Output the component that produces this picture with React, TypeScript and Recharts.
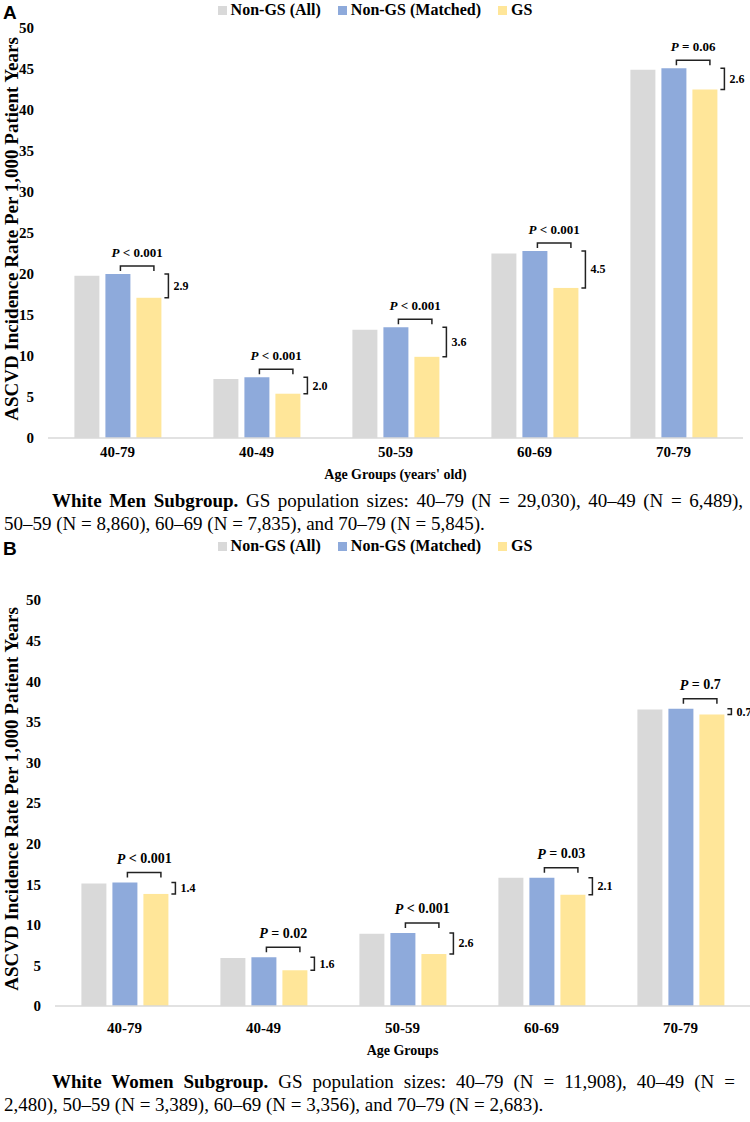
import React from "react";
import { BarChart, Bar, XAxis, YAxis, Legend } from "recharts";

const ageGroups = ["40-79", "40-49", "50-59", "60-69", "70-79"];
const yTicks = [0, 5, 10, 15, 20, 25, 30, 35, 40, 45, 50];
const seriesNames = ["Non-GS (All)", "Non-GS (Matched)", "GS"];

// White men (panel A)
const menNonGsAll = [19.8, 7.2, 13.2, 22.5, 44.9];
const menNonGsMatched = [20.0, 7.4, 13.5, 22.8, 45.1];
const menGs = [17.1, 5.4, 9.9, 18.3, 42.5];
const menPValues = ["P < 0.001", "P < 0.001", "P < 0.001", "P < 0.001", "P = 0.06"];
const menDiffs = ["2.9", "2.0", "3.6", "4.5", "2.6"];

// White women (panel B)
const womenNonGsAll = [15.1, 5.9, 8.9, 15.8, 36.5];
const womenNonGsMatched = [15.2, 6.0, 9.0, 15.8, 36.6];
const womenGs = [13.8, 4.4, 6.4, 13.7, 35.9];
const womenPValues = ["P < 0.001", "P = 0.02", "P < 0.001", "P = 0.03", "P = 0.7"];
const womenDiffs = ["1.4", "1.6", "2.6", "2.1", "0.7"];

const SERIF = '"Liberation Serif", "Times New Roman", serif';
const SANS = '"Liberation Sans", Arial, sans-serif';
const COLORS = ["#d9d9d9", "#8eaadb", "#ffe699"];
const BAR_GAP = 6;
const INK = "#222";

const buildRows = (all: number[], matched: number[], gs: number[], p: string[], d: string[]) =>
    ageGroups.map((g, i) => ({ group: g, all: all[i], matched: matched[i], gs: gs[i], p: p[i], diff: d[i] }));

const LegendBox = () => (
    <div
        style={{
            display: "flex",
            justifyContent: "center",
            alignItems: "center",
            height: 20,
            width: 750,
            fontFamily: SERIF,
            fontWeight: "bold",
            fontSize: 16,
            color: "#000",
        }}
    >
        {seriesNames.map((n, i) => (
            <span key={n} style={{ display: "flex", alignItems: "center", marginRight: i < 2 ? 17 : 0 }}>
                <span style={{ width: 9, height: 9, background: COLORS[i], marginRight: 4, display: "inline-block" }} />
                {n}
            </span>
        ))}
    </div>
);

interface PanelProps {
    letter: string;
    top: number;
    height: number;
    marginTop: number;
    marginRight: number;
    yAxisWidth: number;
    rows: ReturnType<typeof buildRows>;
    xTitle: string;
    pSize: number;
    lift: number;
    tickGap: number;
    titleOffset: number;
}

const Panel: React.FC<PanelProps> = ({
    letter, top, height, marginTop, marginRight, yAxisWidth, rows, xTitle, pSize, lift, tickGap, titleOffset,
}) => {
    const gsShape = (props: any) => {
        const { x, y, width, height: h, payload } = props;
        const base = y + h;
        const perUnit = h / payload.gs;
        const blueTop = base - payload.matched * perUnit;
        const blueX = x - width - BAR_GAP;
        const bx1 = blueX + 0.6 * width;
        const bx2 = x + 0.7 * width;
        const by = blueTop - lift;
        const vx = x + width + 7;
        return (
            <g>
                <rect x={x} y={y} width={width} height={h} fill={COLORS[2]} />
                <path d={`M${bx1},${by + 5}V${by}H${bx2}V${by + 5}`} stroke={INK} strokeWidth={1.5} fill="none" />
                <text
                    x={(bx1 + bx2) / 2}
                    y={by - 14}
                    textAnchor="middle"
                    dominantBaseline="central"
                    fontFamily={SERIF}
                    fontWeight="bold"
                    fontSize={pSize}
                    fill="#000"
                >
                    <tspan fontStyle="italic">P</tspan>
                    {payload.p.slice(1)}
                </text>
                <path d={`M${vx - 4},${blueTop}H${vx}V${y}H${vx - 4}`} stroke={INK} strokeWidth={1.5} fill="none" />
                <text
                    x={vx + 5}
                    y={(blueTop + y) / 2}
                    dominantBaseline="central"
                    fontFamily={SERIF}
                    fontWeight="bold"
                    fontSize={12}
                    fill="#000"
                >
                    {payload.diff}
                </text>
            </g>
        );
    };

    const xTick = (p: any) => (
        <text
            x={p.x}
            y={p.y + tickGap}
            textAnchor="middle"
            dominantBaseline="central"
            fontFamily={SERIF}
            fontWeight="bold"
            fontSize={15}
            fill="#000"
        >
            {p.payload.value}
        </text>
    );

    return (
        <div style={{ position: "absolute", left: 0, top, width: 750, height }}>
            <div style={{ position: "absolute", left: 3, top: 2, fontFamily: SANS, fontWeight: "bold", fontSize: 19, zIndex: 2 }}>
                {letter}
            </div>
            <BarChart
                width={750}
                height={height}
                data={rows}
                margin={{ top: marginTop, right: marginRight, left: 0, bottom: 0 }}
                barGap={BAR_GAP}
                barCategoryGap="19%"
            >
                <Legend verticalAlign="top" content={() => <LegendBox />} wrapperStyle={{ top: 0, left: 0, width: 750 }} />
                <XAxis
                    dataKey="group"
                    height={56}
                    tickLine={false}
                    axisLine={{ stroke: "#d9d9d9", strokeWidth: 1.5 }}
                    tick={xTick}
                    label={{
                        content: (p: any) => {
                            const vb = p.viewBox;
                            return (
                                <text
                                    x={vb.x + vb.width / 2}
                                    y={vb.y + titleOffset}
                                    textAnchor="middle"
                                    dominantBaseline="central"
                                    fontFamily={SERIF}
                                    fontWeight="bold"
                                    fontSize={14}
                                    fill="#000"
                                >
                                    {xTitle}
                                </text>
                            );
                        },
                    }}
                />
                <YAxis
                    width={yAxisWidth}
                    domain={[0, 50]}
                    ticks={yTicks}
                    interval={0}
                    tickLine={false}
                    axisLine={false}
                    tickMargin={8}
                    tick={{ fill: "#000", fontFamily: SERIF, fontWeight: "bold", fontSize: 15 }}
                    label={{
                        content: (p: any) => {
                            const vb = p.viewBox;
                            const cy = vb.y + vb.height / 2 - 4;
                            return (
                                <text
                                    x={11}
                                    y={cy}
                                    transform={`rotate(-90, 11, ${cy})`}
                                    textAnchor="middle"
                                    dominantBaseline="central"
                                    fontFamily={SERIF}
                                    fontWeight="bold"
                                    fontSize={19}
                                    fill="#000"
                                >
                                    ASCVD Incidence Rate Per 1,000 Patient Years
                                </text>
                            );
                        },
                    }}
                />
                <Bar dataKey="all" name={seriesNames[0]} fill={COLORS[0]} isAnimationActive={false} />
                <Bar dataKey="matched" name={seriesNames[1]} fill={COLORS[1]} isAnimationActive={false} />
                <Bar dataKey="gs" name={seriesNames[2]} fill={COLORS[2]} shape={gsShape} isAnimationActive={false} />
            </BarChart>
        </div>
    );
};

const Caption: React.FC<{ top: number; width: number; bold: string; line1: string; line2: string }> = ({
    top, width, bold, line1, line2,
}) => (
    <div style={{ position: "absolute", left: 4, top, width, fontFamily: SERIF, fontSize: 19, lineHeight: "23px", color: "#000" }}>
        <div style={{ paddingLeft: 48, textAlign: "justify", textAlignLast: "justify", whiteSpace: "nowrap" } as React.CSSProperties}>
            <b>{bold}</b> {line1}
        </div>
        <div style={{ whiteSpace: "nowrap" }}>{line2}</div>
    </div>
);

export default function App() {
    return (
        <div style={{ position: "absolute", left: 0, top: 0, width: 750, height: 1122, background: "#fff" }}>
            <Panel
                letter="A"
                top={0}
                height={494}
                marginTop={8}
                marginRight={7}
                yAxisWidth={48}
                rows={buildRows(menNonGsAll, menNonGsMatched, menGs, menPValues, menDiffs)}
                xTitle="Age Groups (years' old)"
                pSize={13}
                lift={8}
                tickGap={6}
                titleOffset={36}
            />
            <Caption
                top={489}
                width={739}
                bold="White Men Subgroup."
                line1="GS population sizes: 40–79 (N = 29,030), 40–49 (N = 6,489),"
                line2="50–59 (N = 8,860), 60–69 (N = 7,835), and 70–79 (N = 5,845)."
            />
            <Panel
                letter="B"
                top={536}
                height={526}
                marginTop={44}
                marginRight={0}
                yAxisWidth={55}
                rows={buildRows(womenNonGsAll, womenNonGsMatched, womenGs, womenPValues, womenDiffs)}
                xTitle="Age Groups"
                pSize={14}
                lift={10}
                tickGap={14}
                titleOffset={44}
            />
            <Caption
                top={1070}
                width={731}
                bold="White Women Subgroup."
                line1="GS population sizes: 40–79 (N = 11,908), 40–49 (N ="
                line2="2,480), 50–59 (N = 3,389), 60–69 (N = 3,356), and 70–79 (N = 2,683)."
            />
        </div>
    );
}
